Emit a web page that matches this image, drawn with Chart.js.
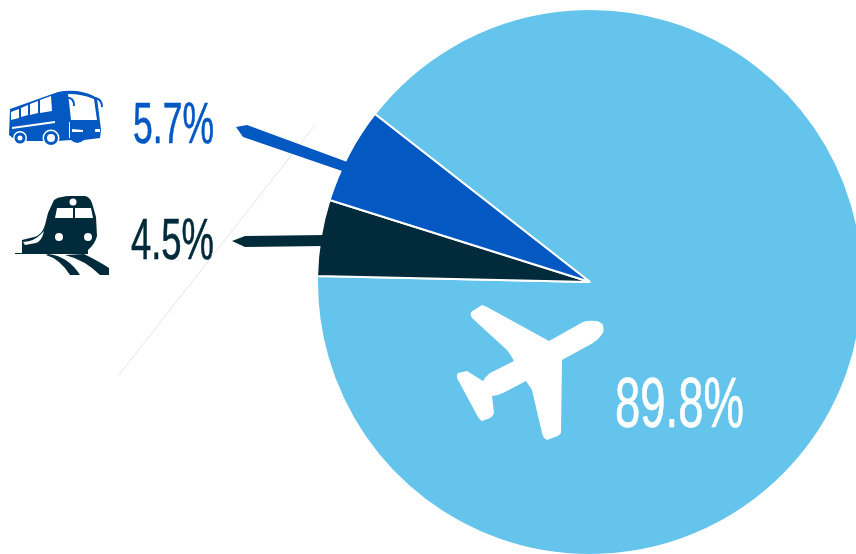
<!DOCTYPE html>
<html>
<head>
<meta charset="utf-8">
<style>
  html, body { margin: 0; padding: 0; background: #fff; overflow: hidden; width: 856px; height: 554px; }
  canvas { display: block; }
</style>
<script src="https://cdn.jsdelivr.net/npm/chart.js@4/dist/chart.umd.js"></script>
</head>
<body>
<canvas id="modeChart" width="864" height="556"></canvas>
<script>
// travel mode share
const MODES = ['Air', 'Rail', 'Bus'];
const SHARES = [89.8, 4.5, 5.7];
const COLORS = ['#65C4EC', '#012A3A', '#0358C2'];
const LABEL_COLORS = ['#FFFFFF', '#012A3A', '#0358C2'];

// x, baseline, font size, width, outline weight of each percentage label
const LABEL_POS = [
    [615, 427, 71, 129, 0.7],
    [131, 259, 57, 83, 0.6],
    [133, 143, 57, 81, 0.6]
];

// pointer shapes running from the labels into the slices
const POINTERS = [
    null,
    'M232 241 L245 236 L326 235 L324 246 L245 247 Z',
    'M236 127 L247 125 L350 163 L345 172 L243 137 Z'
];

const ICON_PLANE = 'M595 321 Q600 321 603 325 Q604 330 603 333 Q599 339 593 343 L562 360 L561 433 Q559 436 555 437 L547 440 Q543 438 542 433 L532 390 L526 381 L503 393 Q497 396 492 396 L494 413 Q493 416 490 418 L482 421 Q480 420 478 417 L457 378 Q456 375 458 373 L467 371 L483 381 Q485 377 490 373 L514 361 Q511 355 507 350 L472 318 Q470 315 471 312 L482 305 L487 307 L549 341 L583 322 Q589 320 595 321 Z';

const ICON_BUS = 'M10 109 L58 92 Q66 90 77 91 Q90 93 97 98 L101 130 L100 138 L84 140 Q77 146 71 140 L57 141 L26 141 L14 139 L9 135 Z';
const BUS_WHITE = [
    'M11 112 L19 109 L19 118 L11 120 Z',
    'M21 108 L28 105 L28 115 L21 117 Z',
    'M30 104 L38 101 L38 113 L30 115 Z',
    'M40 100 L51 96 L52 111 L40 113 Z',
    'M68 94 Q82 94 94 99 L97 120 L71 120 Q70 110 68 94 Z',
    'M12 127 L55 121 L55 123 L12 129 Z',
    'M72 129 L83 130 L83 132 L72 132 Z',
    'M95 129 L100 129 L100 132 L95 132 Z',
    'M69 122 L70 122 L70 138 L69 138 Z'
];
const BUS_WHEELS = [[20, 138, 5.5], [51, 138, 7]];

const ICON_TRAIN = 'M62 197 Q65 196 70 196 L85 196 Q90 197 92 203 L96 217 L97 236 Q95 244 88 250 L88 254 L15 254 L15 253 L22 253 L22 240 L34 237 Q42 235 45 225 L48 213 L54 200 Q58 197 62 197 Z';
const TRAIN_RAILS = [
    'M48 254 Q68 256 80 275 L70 275 Q60 259 46 255 Z',
    'M65 255 L84 254 Q100 262 109 268 L109 275 L100 275 Q85 260 65 255 Z'
];
const TRAIN_WINDOWS = [
    'M57 208 L73 208 L73 218 L55 218 Z',
    'M75 208 L91 208 L93 218 L75 218 Z',
    'M23 242 Q35 241 41 234 L44 231 Q42 241 36 243 L25 245 Z'
];
const TRAIN_LIGHTS = [[73, 202, 3.5], [59, 237, 4], [88, 237, 4]];

function fillPaths(ctx, paths, color) {
    ctx.fillStyle = color;
    paths.forEach(p => ctx.fill(new Path2D(p)));
}

function fillDots(ctx, dots, color) {
    ctx.fillStyle = color;
    dots.forEach(d => {
        ctx.beginPath();
        ctx.arc(d[0], d[1], d[2], 0, Math.PI * 2);
        ctx.fill();
    });
}

// text is squeezed horizontally, no installed condensed face is this tight
function drawLabel(ctx, i) {
    const [x, y, size, w, weight] = LABEL_POS[i];
    const text = SHARES[i].toFixed(1) + '%';
    ctx.save();
    ctx.font = size + 'px "Liberation Sans Narrow", "Liberation Sans", sans-serif';
    ctx.textAlign = 'left';
    ctx.textBaseline = 'alphabetic';
    ctx.fillStyle = LABEL_COLORS[i];
    ctx.strokeStyle = LABEL_COLORS[i];
    ctx.lineWidth = weight;
    ctx.translate(x, y);
    ctx.scale(w / ctx.measureText(text).width, 1);
    ctx.fillText(text, 0, 0);
    ctx.strokeText(text, 0, 0);
    ctx.restore();
}

const decorations = {
    id: 'decorations',
    beforeDatasetsDraw(chart) {
        const ctx = chart.ctx;
        // faint hairline behind the left side
        ctx.save();
        ctx.strokeStyle = '#DEDEDE';
        ctx.lineWidth = 0.8;
        ctx.beginPath();
        ctx.moveTo(315, 125);
        ctx.lineTo(119, 375);
        ctx.stroke();
        ctx.restore();
    },
    afterDatasetsDraw(chart) {
        const ctx = chart.ctx;
        POINTERS.forEach((p, i) => {
            if (p) fillPaths(ctx, [p], COLORS[i]);
        });

        fillPaths(ctx, [ICON_PLANE], '#FFFFFF');

        fillPaths(ctx, [ICON_BUS], COLORS[2]);
        fillPaths(ctx, BUS_WHITE, '#FFFFFF');
        fillDots(ctx, BUS_WHEELS.map(w => [w[0], w[1], w[2] + 1.5]), '#FFFFFF');
        fillDots(ctx, BUS_WHEELS, COLORS[2]);
        fillDots(ctx, BUS_WHEELS.map(w => [w[0], w[1], w[2] - 3]), '#FFFFFF');
        // mirrors
        ctx.save();
        ctx.strokeStyle = COLORS[2];
        ctx.lineWidth = 2;
        ctx.beginPath();
        ctx.moveTo(67, 98);
        ctx.quadraticCurveTo(74, 97, 74, 106);
        ctx.moveTo(95, 98);
        ctx.quadraticCurveTo(102, 99, 102, 107);
        ctx.stroke();
        ctx.restore();

        fillPaths(ctx, [ICON_TRAIN], COLORS[1]);
        fillPaths(ctx, TRAIN_RAILS, COLORS[1]);
        fillPaths(ctx, TRAIN_WINDOWS, '#FFFFFF');
        fillDots(ctx, TRAIN_LIGHTS, '#FFFFFF');

        MODES.forEach((m, i) => drawLabel(ctx, i));
    }
};

new Chart(document.getElementById('modeChart').getContext('2d'), {
    type: 'pie',
    data: {
        labels: MODES,
        datasets: [{
            data: SHARES,
            backgroundColor: COLORS,
            borderColor: '#FFFFFF',
            borderWidth: 2
        }]
    },
    options: {
        responsive: false,
        animation: false,
        rotation: 308,
        layout: { padding: { left: 316, right: 0, top: 8, bottom: 0 } },
        plugins: { legend: { display: false }, tooltip: { enabled: false } }
    },
    plugins: [decorations]
});
</script>
</body>
</html>
